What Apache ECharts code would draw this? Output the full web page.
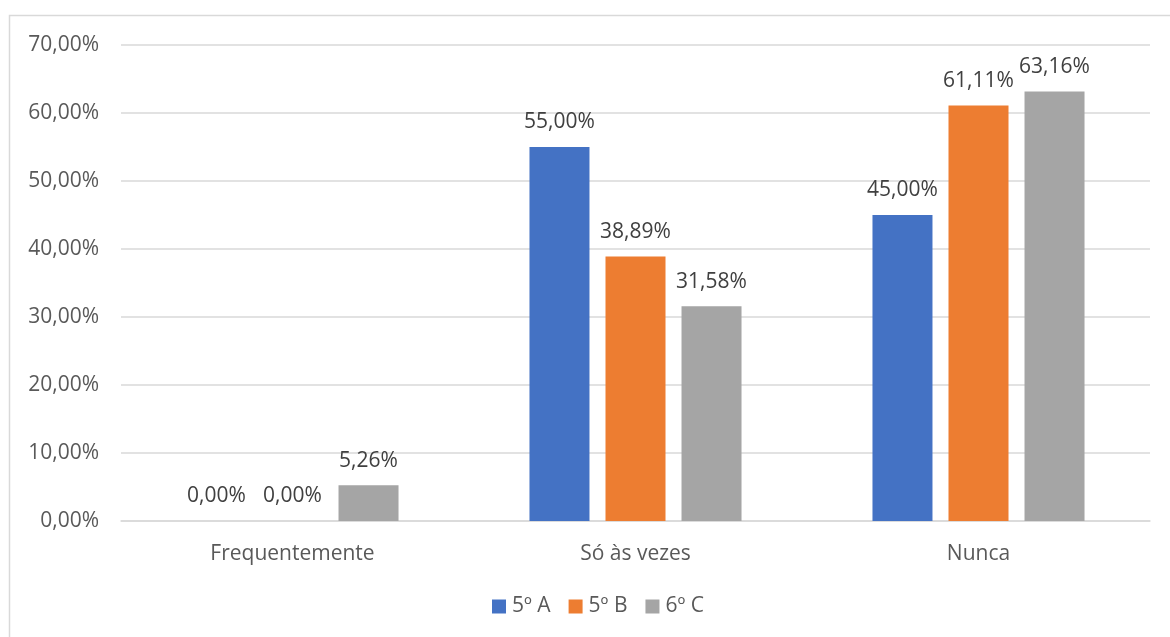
<!DOCTYPE html>
<html>
<head>
<meta charset="utf-8">
<script src="https://cdn.jsdelivr.net/npm/echarts@6/dist/echarts.min.js"></script>
<style>
  html, body { margin: 0; padding: 0; background: #fff; }
  #chart { width: 1170px; height: 637px; }
</style>
</head>
<body>
<div id="chart"></div>
<script>
// Response categories and class groups
const categories = ['Frequentemente', 'Só às vezes', 'Nunca'];
const seriesNames = ['5º A', '5º B', '6º C'];
const valuesA = [0.00, 55.00, 45.00];
const valuesB = [0.00, 38.89, 61.11];
const valuesC = [5.26, 31.58, 63.16];
const colors = ['#4472C4', '#ED7D31', '#A5A5A5'];

const textColor = '#595959';
const fontFamily = '"Open Sans", "Liberation Sans", sans-serif';
const fontSize = 21;
const fmt = v => v.toFixed(2).replace('.', ',') + '%';

const chart = echarts.init(document.getElementById('chart'));
const seriesData = [valuesA, valuesB, valuesC];

chart.setOption({
  animation: false,
  backgroundColor: '#fff',
  textStyle: { fontFamily: fontFamily },
  graphic: [{
    type: 'rect',
    shape: { x: 9.5, y: 15.5, width: 1200, height: 700 },
    style: { fill: 'none', stroke: '#D9D9D9', lineWidth: 1.5 },
    silent: true
  }],
  grid: { left: 121, right: 20, top: 45, bottom: 116, containLabel: false },
  legend: {
    bottom: 20,
    left: 492,
    padding: 0,
    itemWidth: 14,
    itemHeight: 14,
    itemGap: 18,
    icon: 'rect',
    textStyle: { color: textColor, fontSize: fontSize, fontFamily: fontFamily, padding: [0, 0, 0, 1] },
    data: seriesNames
  },
  xAxis: {
    type: 'category',
    data: categories,
    axisLine: { lineStyle: { color: '#D9D9D9', width: 1.5 } },
    axisTick: { show: false },
    axisLabel: { color: textColor, fontSize: fontSize, margin: 23, fontFamily: fontFamily }
  },
  yAxis: {
    type: 'value',
    min: 0,
    max: 70,
    interval: 10,
    axisLine: { show: false },
    axisTick: { show: false },
    splitLine: { lineStyle: { color: '#D9D9D9', width: 1.5 } },
    axisLabel: { color: textColor, fontSize: fontSize, margin: 22, fontFamily: fontFamily, formatter: v => fmt(v) }
  },
  series: seriesNames.map((name, i) => ({
    name: name,
    type: 'bar',
    data: seriesData[i],
    barWidth: 60,
    barGap: '26.7%',
    itemStyle: { color: colors[i] },
    label: {
      show: true,
      position: 'top',
      distance: 14,
      color: '#404040',
      fontSize: fontSize,
      fontFamily: fontFamily,
      formatter: p => fmt(p.value)
    }
  }))
});
</script>
</body>
</html>
